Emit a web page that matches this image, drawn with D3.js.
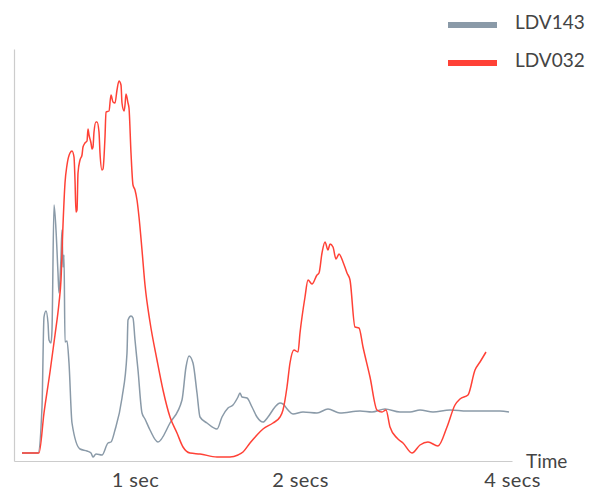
<!DOCTYPE html>
<html>
<head>
<meta charset="utf-8">
<script src="https://cdn.jsdelivr.net/npm/d3@7"></script>
<style>
  body { margin: 0; background: #fff; }
  text { font-family: Lato, "Open Sans", sans-serif; fill: #444; }
</style>
</head>
<body>
<div id="chart"></div>
<script>
// frames along the time axis, values are the signal level
var grayFrames = [8,24,28,30,32,34,35,37,38,40,42,44,45,47,48,49,50,51,53,55,58,66,73,77,79,82,88,94,97,101,108,113,114,117,119,121,124,128,131,136,144,156,168,172,175,179,183,186,193,203,208,214,219,224,226,228,233,238,243,249,254,261,266,269,274,279,289,303,314,326,346,358,371,386,396,406,419,436,453,469,486,495];
var grayValues = [8,8,54,144,150,138,121,118,131,256,231,188,168,204,231,194,206,119,120,98,38,12,10,8,4,7,6,18,19,31,63,108,141,145,143,121,91,48,42,31,19,38,61,94,105,98,68,44,38,32,44,53,56,64,68,64,63,54,44,39,44,54,58,57,51,47,49,48,52,48,50,49,52,49,49,51,49,51,50,50,50,49];

var redFrames = [8,25,30,36,41,45,47,49,51,53,56,58,60,61,62,63,64,66,68,69,71,73,74,75,77,78,79,80,82,83,85,86,88,89,91,92,95,97,99,101,103,105,107,108,110,111,112,114,115,117,119,121,123,125,128,131,136,143,149,156,163,169,176,186,203,216,224,229,236,243,249,259,266,269,273,276,280,284,286,291,294,298,303,305,308,311,314,316,319,322,325,329,333,336,341,345,349,356,363,368,372,376,383,389,398,406,414,424,433,441,446,454,461,466,472];
var redValues = [8,8,48,89,126,158,181,236,278,296,308,310,304,281,249,251,288,301,306,314,318,320,332,326,318,312,314,329,339,339,329,308,291,292,324,349,350,366,359,358,371,380,376,358,350,356,367,358,353,308,276,271,261,244,211,176,139,101,71,44,28,14,8,7,4,4,6,9,18,26,32,38,44,51,74,98,111,109,128,164,181,177,186,188,208,219,211,217,214,202,207,199,188,181,134,133,114,84,51,49,51,34,23,18,8,16,19,15,34,56,62,66,91,99,109];

var tickFrames = [121, 286, 498];
var tickLabels = ["1 sec", "2 secs", "4 secs"];

var seriesNames = ["LDV143", "LDV032"];
var seriesColors = ["#8a9aa8", "#ff4136"];

(function () {
    var width = 603, height = 490;
    var left = 14, right = 512, top = 49, bottom = 461;

    var svg = d3.select("#chart").append("svg")
        .attr("width", width).attr("height", height);

    var x = d3.scaleLinear().domain([0, 498]).range([left, right]);
    var y = d3.scaleLinear().domain([0, 412]).range([bottom, top]);

    // axes
    var xAxis = svg.append("g")
        .attr("transform", "translate(0," + bottom + ")")
        .call(d3.axisBottom(x)
            .tickValues(tickFrames)
            .tickFormat(function (d, i) { return tickLabels[i]; })
            .tickSize(0).tickSizeOuter(0));
    xAxis.select(".domain").attr("stroke", "#cccccc").attr("stroke-width", 1.2);
    xAxis.selectAll("text")
        .attr("y", 26).attr("dy", 0)
        .style("font-size", "20px")
        .style("letter-spacing", "0.4px")
        .style("font-family", "Lato, 'Open Sans', sans-serif")
        .attr("fill", "#444");

    var yAxis = svg.append("g")
        .attr("transform", "translate(" + left + ",0)")
        .call(d3.axisLeft(y).tickValues([]).tickSizeOuter(0));
    yAxis.select(".domain").attr("stroke", "#cccccc").attr("stroke-width", 1.2);

    svg.append("text")
        .attr("x", 526).attr("y", 468)
        .style("font-size", "19px")
        .text("Time");

    var line = d3.line()
        .x(function (d) { return x(d[0]); })
        .y(function (d) { return y(d[1]); })
        .curve(d3.curveMonotoneX);

    var series = [
        d3.zip(grayFrames, grayValues),
        d3.zip(redFrames, redValues)
    ];

    series.forEach(function (pts, i) {
        svg.append("path")
            .datum(pts)
            .attr("fill", "none")
            .attr("stroke", seriesColors[i])
            .attr("stroke-width", 1.5)
            .attr("stroke-linejoin", "round")
            .attr("d", line);
    });

    // legend
    var legend = svg.append("g").selectAll("g")
        .data(seriesNames)
        .enter().append("g")
        .attr("transform", function (d, i) { return "translate(448," + (22 + i * 38) + ")"; });
    legend.append("rect")
        .attr("width", 49).attr("height", 6)
        .attr("fill", function (d, i) { return seriesColors[i]; });
    legend.append("text")
        .attr("x", 67).attr("y", 6.5)
        .style("font-size", "19px")
        .text(function (d) { return d; });
})();
</script>
</body>
</html>
